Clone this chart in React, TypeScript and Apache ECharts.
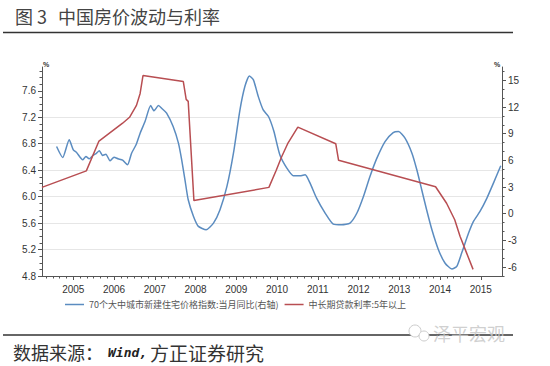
import React, { useEffect, useRef } from 'react';
import * as echarts from 'echarts';

// 中长期贷款利率:5年以上 (left axis, %), dates as decimal years
const rateDates = [2005.23, 2006.32, 2006.63, 2007.21, 2007.38, 2007.55, 2007.64, 2007.71, 2008.70, 2008.77, 2008.82, 2008.96, 2010.80, 2010.98, 2011.11, 2011.26, 2011.51, 2012.44, 2012.51, 2014.89, 2015.16, 2015.36, 2015.49, 2015.65, 2015.81];
const rateValues = [6.14, 6.39, 6.84, 7.11, 7.20, 7.38, 7.56, 7.83, 7.74, 7.47, 7.44, 5.94, 6.14, 6.40, 6.60, 6.80, 7.05, 6.80, 6.55, 6.15, 5.90, 5.65, 5.40, 5.15, 4.90];

// 70个大中城市新建住宅价格指数:当月同比 (right axis, %)
const priceDates = [2005.59, 2005.74, 2005.90, 2006.00, 2006.08, 2006.23, 2006.31, 2006.39, 2006.48, 2006.56, 2006.64, 2006.72, 2006.80, 2006.90, 2007.00, 2007.10, 2007.21, 2007.33, 2007.43, 2007.54, 2007.64, 2007.76, 2007.90, 2007.98, 2008.09, 2008.18, 2008.29, 2008.45, 2008.58, 2008.66, 2008.74, 2008.82, 2008.95, 2009.07, 2009.26, 2009.44, 2009.60, 2009.77, 2009.93, 2010.09, 2010.21, 2010.32, 2010.42, 2010.54, 2010.66, 2010.79, 2010.92, 2011.07, 2011.24, 2011.40, 2011.56, 2011.69, 2011.81, 2011.97, 2012.18, 2012.38, 2012.59, 2012.79, 2012.96, 2013.12, 2013.28, 2013.45, 2013.65, 2013.85, 2013.98, 2014.14, 2014.31, 2014.43, 2014.55, 2014.67, 2014.80, 2014.96, 2015.12, 2015.29, 2015.41, 2015.53, 2015.70, 2015.82, 2015.98, 2016.15, 2016.31, 2016.49];
const priceValues = [7.56, 6.32, 8.31, 7.19, 6.89, 6.06, 6.44, 6.18, 6.55, 6.77, 7.07, 6.55, 6.70, 5.95, 6.36, 6.18, 6.03, 5.50, 6.81, 7.75, 9.06, 10.37, 12.16, 11.57, 12.16, 11.8, 11.31, 9.80, 7.94, 6.06, 3.82, 1.57, -0.30, -1.42, -1.80, -1.05, 0.45, 3.07, 6.81, 11.68, 14.3, 15.5, 15.05, 13.17, 11.68, 10.93, 9.3, 6.6, 5.13, 4.27, 4.27, 4.38, 3.44, 1.76, 0.08, -1.16, -1.24, -1.05, 0.08, 1.94, 4.19, 6.25, 8.12, 9.13, 9.24, 8.50, 6.81, 4.94, 2.70, 0.45, -1.80, -4.04, -5.54, -6.21, -5.92, -4.42, -2.17, -0.86, 0.26, 1.76, 3.44, 5.4];

// axis ticks
const yearTicks = [2006, 2007, 2008, 2009, 2010, 2011, 2012, 2013, 2014, 2015, 2016];
const leftTicks = [4.8, 5.2, 5.6, 6.0, 6.4, 6.8, 7.2, 7.6];
const rightTicks = [-6, -3, 0, 3, 6, 9, 12, 15];

const seriesNames = ['70个大中城市新建住宅价格指数:当月同比(右轴)', '中长期贷款利率:5年以上'];

const X_MIN = 2005.232;
const X_MAX = 2016.52;
const L_MIN = 4.8;
const L_MAX = 7.96;
const R_MIN = -7;
const R_MAX = 16.5;

const minorX: number[] = [];
for (let k = 8; k <= 69; k++) {
  if (k % 6 !== 0) minorX.push(2004 + k / 6);
}
const minorL: number[] = [];
for (let k = 49; k <= 79; k++) {
  if (k % 4 !== 0) minorL.push(k / 10);
}
const minorR: number[] = [];
for (let k = -7; k <= 16; k++) {
  if (k % 3 !== 0) minorR.push(k);
}

const AXIS_COLOR = '#555';
const LABEL_COLOR = '#333';
const BLUE = '#5b8cc0';
const RED = '#b84e52';
const FONT = 'Liberation Sans, Arial, sans-serif';
const CJK = 'Noto Sans CJK SC, sans-serif';

export default function App() {
  const ref = useRef<HTMLDivElement>(null);
  useEffect(() => {
    if (!ref.current) return;
    const chart = echarts.init(ref.current, undefined, { renderer: 'svg' });
    const axisLabelStyle = { color: LABEL_COLOR, fontSize: 10, fontFamily: FONT };
    const option: any = {
      animation: false,
      backgroundColor: '#fff',
      grid: { left: 42, right: 48, top: 67, bottom: 90, containLabel: false },
      legend: {
        left: 60,
        top: 295,
        icon: 'rect',
        itemWidth: 19,
        itemHeight: 1.5,
        itemGap: 6,
        textStyle: { fontSize: 9, color: '#555', fontFamily: CJK },
        data: seriesNames,
      },
      xAxis: [
        {
          type: 'value',
          min: X_MIN,
          max: X_MAX,
          position: 'bottom',
          axisLine: { show: true, onZero: false, lineStyle: { color: AXIS_COLOR, width: 1 } },
          axisTick: { show: true, customValues: yearTicks, length: 4, lineStyle: { color: AXIS_COLOR } },
          axisLabel: {
            show: true,
            customValues: yearTicks,
            formatter: (v: number) => String(Math.round(v) - 1),
            margin: 8,
            ...axisLabelStyle,
          },
          splitLine: { show: false },
        },
        {
          type: 'value',
          min: X_MIN,
          max: X_MAX,
          position: 'bottom',
          axisLine: { show: false, onZero: false },
          axisTick: { show: true, customValues: minorX, length: 2.5, lineStyle: { color: AXIS_COLOR } },
          axisLabel: { show: false },
          splitLine: { show: false },
        },
      ],
      yAxis: [
        {
          type: 'value',
          position: 'left',
          min: L_MIN,
          max: L_MAX,
          interval: 0.4,
          axisLine: { show: true, onZero: false, lineStyle: { color: AXIS_COLOR, width: 1 } },
          axisTick: { show: true, customValues: leftTicks, length: 4, lineStyle: { color: AXIS_COLOR } },
          axisLabel: {
            customValues: leftTicks,
            formatter: (v: number) => v.toFixed(1),
            margin: 6,
            ...axisLabelStyle,
          },
          splitLine: { show: true, showMaxLine: false, lineStyle: { color: '#e6e6e6', width: 1 } },
        },
        {
          type: 'value',
          position: 'right',
          min: R_MIN,
          max: R_MAX,
          axisLine: { show: true, onZero: false, lineStyle: { color: AXIS_COLOR, width: 1 } },
          axisTick: { show: true, customValues: rightTicks, length: 4, lineStyle: { color: AXIS_COLOR } },
          axisLabel: {
            customValues: rightTicks,
            formatter: (v: number) => String(v),
            margin: 6,
            ...axisLabelStyle,
          },
          splitLine: { show: false },
        },
        {
          type: 'value',
          position: 'left',
          min: L_MIN,
          max: L_MAX,
          axisLine: { show: false, onZero: false },
          axisTick: { show: true, customValues: minorL, length: 2.5, lineStyle: { color: AXIS_COLOR } },
          axisLabel: { show: false },
          splitLine: { show: false },
        },
        {
          type: 'value',
          position: 'right',
          min: R_MIN,
          max: R_MAX,
          axisLine: { show: false, onZero: false },
          axisTick: { show: true, customValues: minorR, length: 2.5, lineStyle: { color: AXIS_COLOR } },
          axisLabel: { show: false },
          splitLine: { show: false },
        },
      ],
      series: [
        {
          name: seriesNames[0],
          type: 'line',
          xAxisIndex: 0,
          yAxisIndex: 1,
          symbol: 'none',
          smooth: 0.2,
          lineStyle: { color: BLUE, width: 1.5 },
          itemStyle: { color: BLUE },
          data: priceDates.map((d, i) => [d, priceValues[i]]),
        },
        {
          name: seriesNames[1],
          type: 'line',
          xAxisIndex: 0,
          yAxisIndex: 0,
          symbol: 'none',
          lineStyle: { color: RED, width: 1.5 },
          itemStyle: { color: RED },
          data: rateDates.map((d, i) => [d, rateValues[i]]),
        },
      ],
      graphic: [
        { type: 'text', left: 15, top: 7, style: { text: '图 3', fontSize: 18, fontFamily: CJK, fill: '#444' } },
        { type: 'text', left: 58, top: 7, style: { text: '中国房价波动与利率', fontSize: 18, fontFamily: CJK, fill: '#444' } },
        { type: 'line', shape: { x1: 3, y1: 32.5, x2: 513, y2: 32.5 }, style: { stroke: '#333', lineWidth: 1.5 } },
        { type: 'text', left: 43, top: 61, style: { text: '%', fontSize: 7, fontWeight: 'bold', fontFamily: FONT, fill: '#333' } },
        { type: 'text', left: 494, top: 61, style: { text: '%', fontSize: 7, fontWeight: 'bold', fontFamily: FONT, fill: '#333' } },
        { type: 'line', shape: { x1: 3, y1: 335, x2: 513, y2: 335 }, style: { stroke: '#333', lineWidth: 1.5 } },
        { type: 'circle', shape: { cx: 415, cy: 331, r: 6 }, style: { fill: '#fff', stroke: '#ccc', lineWidth: 1 } },
        { type: 'circle', shape: { cx: 424, cy: 336, r: 5 }, style: { fill: '#fff', stroke: '#ccc', lineWidth: 1 } },
        { type: 'text', left: 433, top: 324, style: { text: '泽平宏观', fontSize: 18, fontFamily: CJK, fill: 'rgba(200,200,200,0.85)' } },
        { type: 'text', left: 13, top: 343, style: { text: '数据来源：', fontSize: 18, fontFamily: CJK, fill: '#333' } },
        { type: 'text', left: 108, top: 346, style: { text: 'Wind,', fontSize: 13, fontStyle: 'italic', fontWeight: 'bold', fontFamily: 'DejaVu Sans Mono, monospace', fill: '#222' } },
        { type: 'text', left: 150, top: 343, style: { text: '方正证券研究', fontSize: 19, fontFamily: CJK, fill: '#333' } },
      ],
    };
    chart.setOption(option);
    return () => chart.dispose();
  }, []);
  return <div ref={ref} style={{ position: 'absolute', left: 0, top: 0, width: 550, height: 366 }} />;
}
